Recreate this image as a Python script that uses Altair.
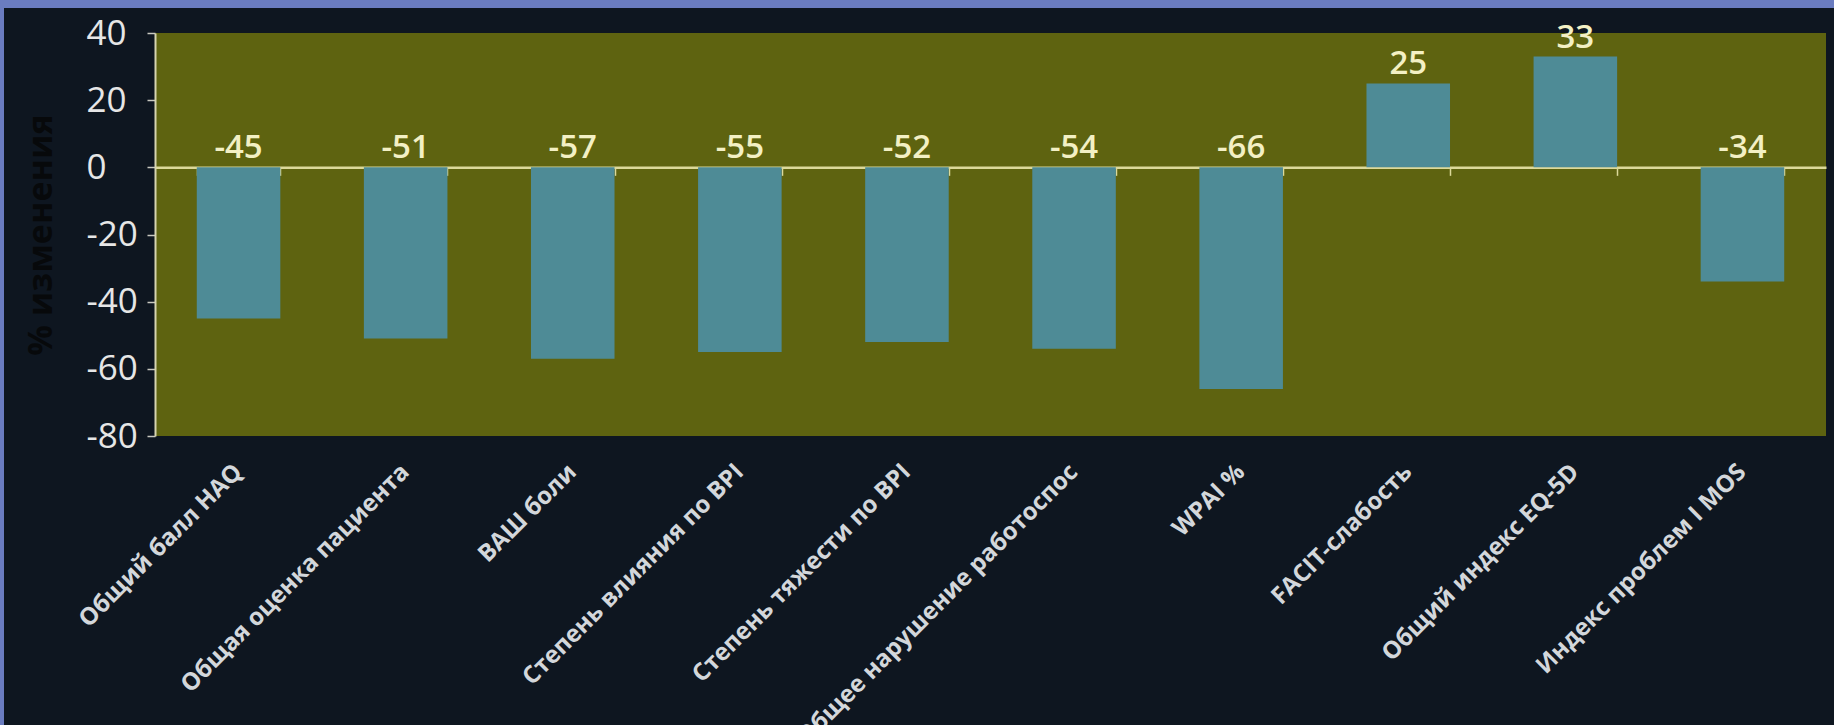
import altair as alt
import pandas as pd

categories = [
    "Общий балл HAQ",
    "Общая оценка пациента",
    "ВАШ боли",
    "Степень влияния по BPI",
    "Степень тяжести по BPI",
    "Общее нарушение работоспос",
    "WPAI %",
    "FACIT-слабость",
    "Общий индекс EQ-5D",
    "Индекс проблем I MOS",
]
values = [-45, -51, -57, -55, -52, -54, -66, 25, 33, -34]
y_ticks = [-80, -60, -40, -20, 0, 20, 40]
y_title = "% изменения"

W, H = 1671, 403
Y_MIN, Y_MAX = -80, 40

df = pd.DataFrame({"cat": categories, "val": values})
one = pd.DataFrame({"a": [0]})

x_scale = alt.Scale(paddingInner=0.5, paddingOuter=0.25)
y_scale = alt.Scale(domain=[Y_MIN, Y_MAX], nice=False, zero=False)

label_axis = alt.Axis(
    orient="bottom", title=None, domain=False, ticks=False, grid=False,
    labelAngle=-45, labelAlign="right", labelBaseline="middle",
    labelPadding=32, labelFont="Open Sans", labelFontSize=24,
    labelFontWeight="bold", labelColor="#d3d7db", labelLimit=1000,
    labelOverlap=False, labelFlush=False,
)
zero_axis = alt.Axis(
    orient="bottom", offset=-H * (0 - Y_MIN) / (Y_MAX - Y_MIN),
    labels=False, title=None, grid=False,
    domainColor="#dcd99a", domainWidth=2.5,
    ticks=True, tickColor="#dcd99a", tickSize=8, tickWidth=1.5,
    tickBand="extent",
)
y_axis = alt.Axis(
    values=y_ticks, title=y_title, grid=False,
    labelExpr="'' + datum.value",
    labelAlign="left", labelBaseline="middle", labelPadding=61,
    labelFont="Open Sans", labelFontSize=35, labelColor="#e6e6e6",
    tickSize=8, tickColor="#c8c8c0", tickWidth=1.5,
    domainColor="#d6d4b0", domainWidth=2,
    titleColor="#07090b", titleFont="Open Sans", titleFontSize=34,
    titleFontWeight="bold", titleAngle=270, titleX=-114, titleY=H / 2,
    titleAlign="center", titleBaseline="middle",
)

bars = alt.Chart(df).mark_bar(color="#4e8b96").encode(
    x=alt.X("cat:N", sort=categories, scale=x_scale, axis=label_axis),
    y=alt.Y("val:Q", scale=y_scale, axis=y_axis),
)

labels = alt.Chart(df).transform_calculate(
    ly="max(datum.val, 0)", txt="'' + datum.val"
).mark_text(
    baseline="alphabetic", dy=-9, font="Open Sans", fontSize=33,
    fontWeight=600, color="#f3f0c4",
).encode(
    x=alt.X("cat:N", sort=categories, scale=x_scale, axis=zero_axis),
    y=alt.Y("ly:Q", scale=y_scale, axis=y_axis),
    text=alt.Text("txt:N"),
)

frame_color = "#6a7cc0"
left_strip = alt.Chart(one).mark_rect(color=frame_color).encode(
    x=alt.value(-155), x2=alt.value(-151), y=alt.value(-33), y2=alt.value(692)
)
top_strip = alt.Chart(one).mark_rect(color=frame_color).encode(
    x=alt.value(-155), x2=alt.value(W + 8), y=alt.value(-33), y2=alt.value(-25)
)

chart = alt.layer(bars, labels, left_strip, top_strip).resolve_axis(
    x="independent"
).properties(
    width=W, height=H,
    autosize=alt.AutoSizeParams(type="none"),
    padding={"left": 155, "top": 33, "right": 8, "bottom": 289},
    background="#0e1620",
).configure_view(stroke=None, fill="#5e6310")

chart.save("out.html", embed_options={"renderer": "svg", "actions": False})
